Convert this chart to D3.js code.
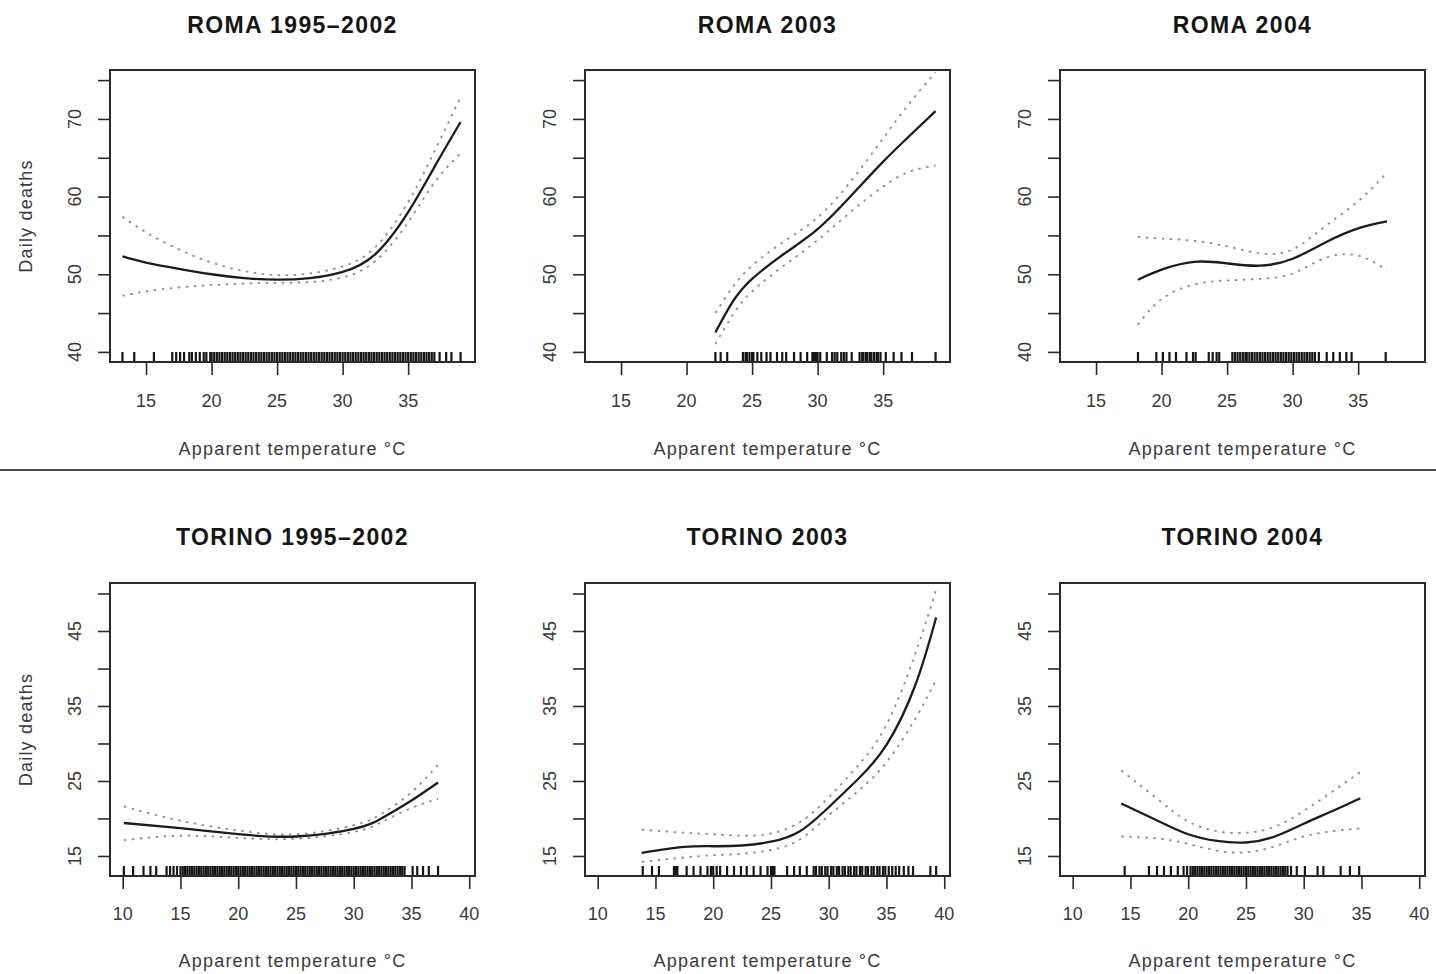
<!DOCTYPE html>
<html>
<head>
<meta charset="utf-8">
<script src="https://cdn.jsdelivr.net/npm/d3@7"></script>
<style>
  body { margin: 0; background: #fff; }
  svg { display: block; font-family: "Liberation Sans", Arial, Helvetica, sans-serif; }
  .box { fill: none; stroke: #2a2a2a; stroke-width: 2; }
  .axis path { display: none; }
  .axis line { stroke: #2a2a2a; stroke-width: 1.6; }
  .fit { fill: none; stroke: #1c1c1c; stroke-width: 2.3; }
  .ci { fill: none; stroke: #8c8c8c; stroke-width: 1.8; stroke-dasharray: 2.5 5.5; }
  .rug { stroke: #151515; stroke-width: 2.2; }
  .title { font-size: 23px; font-weight: bold; fill: #151515; text-anchor: middle; letter-spacing: 1.4px; }
  .ylab { font-size: 18px; fill: #3a3a3a; text-anchor: middle; }
  .atitle { font-size: 18px; fill: #3a3a3a; text-anchor: middle; letter-spacing: 1.2px; }
</style>
</head>
<body>
<svg id="chart" width="1436" height="974"></svg>
<script>
/* Daily deaths vs apparent temperature — Roma / Torino, GAM fits with 95% bands. */

const titles = ["ROMA 1995–2002", "ROMA 2003", "ROMA 2004", "TORINO 1995–2002", "TORINO 2003", "TORINO 2004"];
const xTitle = "Apparent temperature °C";
const yTitle = "Daily deaths";

const romaXTicks = [15, 20, 25, 30, 35];
const romaYTicks = [40, 45, 50, 55, 60, 65, 70, 75];
const romaYLabels = [40, 50, 60, 70];
const torinoXTicks = [10, 15, 20, 25, 30, 35, 40];
const torinoYTicks = [15, 20, 25, 30, 35, 40, 45, 50];
const torinoYLabels = [15, 25, 35, 45];

/* fitted curve + lower / upper band, read at these temperatures */
const roma9502T   = [13.2, 15, 17.5, 20, 22.5, 25, 27.5, 30, 32.5, 35, 37, 39];
const roma9502Fit = [52.3, 51.5, 50.7, 50.0, 49.5, 49.3, 49.5, 50.3, 52.6, 58.0, 63.8, 69.6];
const roma9502Lo  = [47.2, 47.8, 48.3, 48.6, 48.8, 48.9, 49.0, 49.6, 51.7, 56.7, 61.8, 65.6];
const roma9502Hi  = [57.4, 55.4, 53.2, 51.5, 50.4, 49.9, 50.1, 51.0, 53.5, 59.3, 65.8, 72.8];

const roma03T   = [22.2, 23.5, 25, 27.5, 30, 32.5, 35, 37, 39];
const roma03Fit = [42.5, 46.4, 49.4, 52.7, 55.8, 60.0, 64.5, 67.8, 71.0];
const roma03Lo  = [41.0, 44.7, 47.8, 51.2, 54.4, 58.0, 61.3, 63.2, 64.0];
const roma03Hi  = [45.0, 48.3, 51.1, 54.3, 57.3, 61.9, 67.5, 72.0, 76.0];

const roma04T   = [18.2, 20, 22.5, 25, 27.5, 30, 32.5, 35, 37.2];
const roma04Fit = [49.3, 50.6, 51.6, 51.4, 51.1, 52.0, 54.1, 55.9, 56.8];
const roma04Lo  = [43.5, 46.8, 48.7, 49.2, 49.4, 50.1, 52.1, 52.4, 50.5];
const roma04Hi  = [54.8, 54.6, 54.3, 53.6, 52.7, 53.2, 56.2, 59.4, 63.1];

const torino9502T   = [10.1, 15, 20, 25, 30, 32.5, 35, 37.3];
const torino9502Fit = [19.4, 18.7, 17.9, 17.6, 18.6, 20.1, 22.4, 24.8];
const torino9502Lo  = [17.1, 17.7, 17.4, 17.3, 18.2, 19.6, 21.4, 22.6];
const torino9502Hi  = [21.6, 19.7, 18.4, 17.9, 19.1, 20.7, 23.5, 27.2];

const torino03T   = [13.8, 17.5, 20, 22.5, 25, 27.5, 30, 32.5, 35, 37.5, 39.3];
const torino03Fit = [15.4, 16.2, 16.3, 16.4, 16.9, 18.3, 21.5, 25.2, 29.8, 37.8, 46.8];
const torino03Lo  = [14.2, 14.8, 15.1, 15.3, 15.8, 17.2, 20.4, 23.6, 27.5, 33.3, 38.5];
const torino03Hi  = [18.5, 18.1, 17.9, 17.7, 18.0, 19.5, 22.8, 27.0, 32.5, 42.0, 50.5];

const torino04T   = [14.2, 17.5, 20, 22.5, 25, 27.5, 30, 32.5, 34.9];
const torino04Fit = [22.0, 19.6, 17.9, 17.0, 16.8, 17.6, 19.3, 21.0, 22.7];
const torino04Lo  = [17.6, 17.3, 16.6, 15.7, 15.5, 16.3, 17.6, 18.3, 18.7];
const torino04Hi  = [26.4, 22.4, 19.6, 18.3, 18.1, 18.9, 21.0, 23.6, 26.2];

/* observed apparent temperatures (rug) */
const rugRoma9502 = ("13.2 14.1 15.6 17.0 17.3 17.6 17.9 18.3 18.5 18.8 19.1 19.4 19.6 19.9 " +
  "20.0 20.2 20.4 20.6 20.8 21.0 21.2 21.4 21.6 21.8 22.0 22.2 22.4 22.6 22.8 23.0 23.2 23.4 23.6 23.8 " +
  "24.0 24.2 24.4 24.6 24.8 25.0 25.2 25.4 25.6 25.8 26.0 26.2 26.4 26.6 26.8 27.0 27.2 27.4 27.6 27.8 " +
  "28.0 28.2 28.4 28.6 28.8 29.0 29.2 29.4 29.6 29.8 30.0 30.2 30.4 30.6 30.8 31.0 31.2 31.4 31.6 31.8 " +
  "32.0 32.2 32.4 32.6 32.8 33.0 33.2 33.4 33.6 33.8 34.0 34.2 34.4 34.6 34.8 35.0 35.2 35.4 35.6 35.8 " +
  "36.0 36.2 36.4 36.6 36.8 37.0 37.4 37.9 38.3 39.0").split(" ").map(Number);

const rugRoma03 = ("22.2 22.6 23.1 24.3 24.5 24.6 24.8 25.0 25.1 25.4 25.7 26.1 26.4 26.9 27.3 27.6 28.2 28.7 29.2 " +
  "29.6 29.7 29.8 29.9 30.0 30.2 30.7 31.1 31.3 31.5 31.8 32.0 32.2 32.6 33.2 33.4 33.5 33.7 33.8 34.0 34.1 34.3 " +
  "34.5 34.6 34.8 35.2 35.8 36.4 37.2 39.0").split(" ").map(Number);

const rugRoma04 = ("18.2 19.6 20.1 20.6 21.1 21.9 22.4 22.6 23.6 23.9 24.2 24.4 " +
  "25.4 25.6 25.8 26.0 26.2 26.4 26.5 26.7 26.9 27.1 27.3 27.5 27.7 27.9 28.1 28.3 28.5 28.7 28.9 " +
  "29.1 29.3 29.5 29.7 29.9 30.1 30.3 30.5 30.7 30.9 31.1 31.3 31.5 31.7 32.0 " +
  "32.6 33.1 33.6 34.1 34.5 37.1").split(" ").map(Number);

const rugTorino9502 = ("10.1 10.9 11.8 12.4 12.9 13.8 14.1 14.4 14.7 " +
  "15.0 15.2 15.4 15.6 15.8 16.0 16.2 16.4 16.6 16.8 17.0 17.2 17.4 17.6 17.8 18.0 18.2 18.4 18.6 18.8 " +
  "19.0 19.2 19.4 19.6 19.8 20.0 20.2 20.4 20.6 20.8 21.0 21.2 21.4 21.6 21.8 22.0 22.2 22.4 22.6 22.8 " +
  "23.0 23.2 23.4 23.6 23.8 24.0 24.2 24.4 24.6 24.8 25.0 25.2 25.4 25.6 25.8 26.0 26.2 26.4 26.6 26.8 " +
  "27.0 27.2 27.4 27.6 27.8 28.0 28.2 28.4 28.6 28.8 29.0 29.2 29.4 29.6 29.8 30.0 30.2 30.4 30.6 30.8 " +
  "31.0 31.2 31.4 31.6 31.8 32.0 32.2 32.4 32.6 32.8 33.0 33.2 33.4 33.6 33.8 34.0 34.2 34.4 " +
  "35.1 35.5 36.0 36.5 37.3").split(" ").map(Number);

const rugTorino03 = ("13.9 14.7 15.3 16.6 16.7 16.8 16.9 17.7 18.3 18.9 19.5 19.8 20.0 20.3 20.6 21.2 21.8 " +
  "22.4 22.9 23.5 24.1 24.7 25.0 25.1 25.2 25.3 26.4 27.0 27.5 28.1 " +
  "28.7 28.9 29.2 29.4 29.7 29.9 30.2 30.4 30.7 30.9 31.2 31.4 31.7 31.9 32.2 32.4 32.7 32.9 " +
  "33.2 33.4 33.7 33.9 34.2 34.4 34.7 34.9 35.2 35.5 35.8 36.1 36.5 36.9 37.3 38.8 39.3").split(" ").map(Number);

const rugTorino04 = ("14.5 16.6 17.3 17.9 18.5 19.1 19.6 19.9 " +
  "20.2 20.4 20.6 20.8 21.0 21.2 21.4 21.6 21.8 22.0 22.2 22.4 22.6 22.8 23.0 23.2 23.4 23.6 23.8 " +
  "24.0 24.2 24.4 24.6 24.8 25.0 25.2 25.4 25.6 25.8 26.0 26.2 26.4 26.6 26.8 27.0 27.2 27.4 27.6 " +
  "27.8 28.0 28.2 28.4 28.6 28.9 29.4 30.1 31.2 31.7 33.2 34.0 34.8").split(" ").map(Number);

/* ---------- Layout ---------- */

const W = 1436;
const COL_LEFT = [110, 585, 1060];
const BOX_W = 365;
const ROW = [
  { top: 70, h: 292, xDom: [12.25, 40.1], yDom: [38.7, 76.3],
    xTicks: romaXTicks, yTicks: romaYTicks, yLabels: romaYLabels,
    titleY: 33, tickLabY: 407, xTitleY: 455 },
  { top: 583, h: 293, xDom: [8.9, 40.5], yDom: [12.33, 51.4],
    xTicks: torinoXTicks, yTicks: torinoYTicks, yLabels: torinoYLabels,
    titleY: 545, tickLabY: 920, xTitleY: 967 },
];

const panels = [
  { t: roma9502T, fit: roma9502Fit, lo: roma9502Lo, hi: roma9502Hi, rug: rugRoma9502 },
  { t: roma03T, fit: roma03Fit, lo: roma03Lo, hi: roma03Hi, rug: rugRoma03 },
  { t: roma04T, fit: roma04Fit, lo: roma04Lo, hi: roma04Hi, rug: rugRoma04 },
  { t: torino9502T, fit: torino9502Fit, lo: torino9502Lo, hi: torino9502Hi, rug: rugTorino9502 },
  { t: torino03T, fit: torino03Fit, lo: torino03Lo, hi: torino03Hi, rug: rugTorino03 },
  { t: torino04T, fit: torino04Fit, lo: torino04Lo, hi: torino04Hi, rug: rugTorino04 },
];

const svg = d3.select("#chart");

/* ---------- Panels ---------- */

panels.forEach((p, i) => {
  const row = ROW[Math.floor(i / 3)];
  const col = i % 3;
  const left = COL_LEFT[col];
  const x = d3.scaleLinear().domain(row.xDom).range([left, left + BOX_W]);
  const y = d3.scaleLinear().domain(row.yDom).range([row.top + row.h, row.top]);
  const g = svg.append("g");
  const cx = left + BOX_W / 2;

  g.append("text").attr("class", "title").attr("x", cx).attr("y", row.titleY).text(titles[i]);

  g.append("rect").attr("class", "box")
    .attr("x", left).attr("y", row.top).attr("width", BOX_W).attr("height", row.h);

  // x axis: ticks hang below the box
  g.append("g").attr("class", "axis")
    .attr("transform", `translate(0,${row.top + row.h})`)
    .call(d3.axisBottom(x).tickValues(row.xTicks).tickSize(13).tickSizeOuter(0).tickFormat(""));
  g.selectAll("text.xt").data(row.xTicks).join("text")
    .attr("class", "ylab")
    .attr("x", (d) => x(d)).attr("y", row.tickLabY)
    .text((d) => d);

  // y axis: every 5, rotated labels every 10
  g.append("g").attr("class", "axis")
    .attr("transform", `translate(${left},0)`)
    .call(d3.axisLeft(y).tickValues(row.yTicks).tickSize(12).tickSizeOuter(0).tickFormat(""));
  g.selectAll("text.yt").data(row.yLabels).join("text")
    .attr("class", "ylab")
    .attr("dominant-baseline", "central")
    .attr("transform", (d) => `translate(${left - 35},${y(d)}) rotate(-90)`)
    .text((d) => d);

  g.append("text").attr("class", "atitle").attr("x", cx).attr("y", row.xTitleY).text(xTitle);
  if (col === 0) {
    g.append("text").attr("class", "atitle")
      .attr("dominant-baseline", "central")
      .attr("transform", `translate(26,${row.top + row.h / 2}) rotate(-90)`)
      .text(yTitle);
  }

  // rug along the bottom edge
  const yb = row.top + row.h;
  g.append("g").selectAll("line").data(p.rug).join("line")
    .attr("class", "rug")
    .attr("x1", (d) => x(d)).attr("x2", (d) => x(d))
    .attr("y1", yb - 1).attr("y2", yb - 10);

  const line = (vals) => d3.line()
    .x((d) => x(d))
    .y((d, k) => y(vals[k]))
    .curve(d3.curveNatural)(p.t);

  g.append("path").attr("class", "ci").attr("d", line(p.lo));
  g.append("path").attr("class", "ci").attr("d", line(p.hi));
  g.append("path").attr("class", "fit").attr("d", line(p.fit));
});

// divider between the two cities
svg.append("line")
  .attr("x1", 0).attr("x2", W).attr("y1", 470).attr("y2", 470)
  .attr("stroke", "#111").attr("stroke-width", 1.6);
</script>
</body>
</html>
